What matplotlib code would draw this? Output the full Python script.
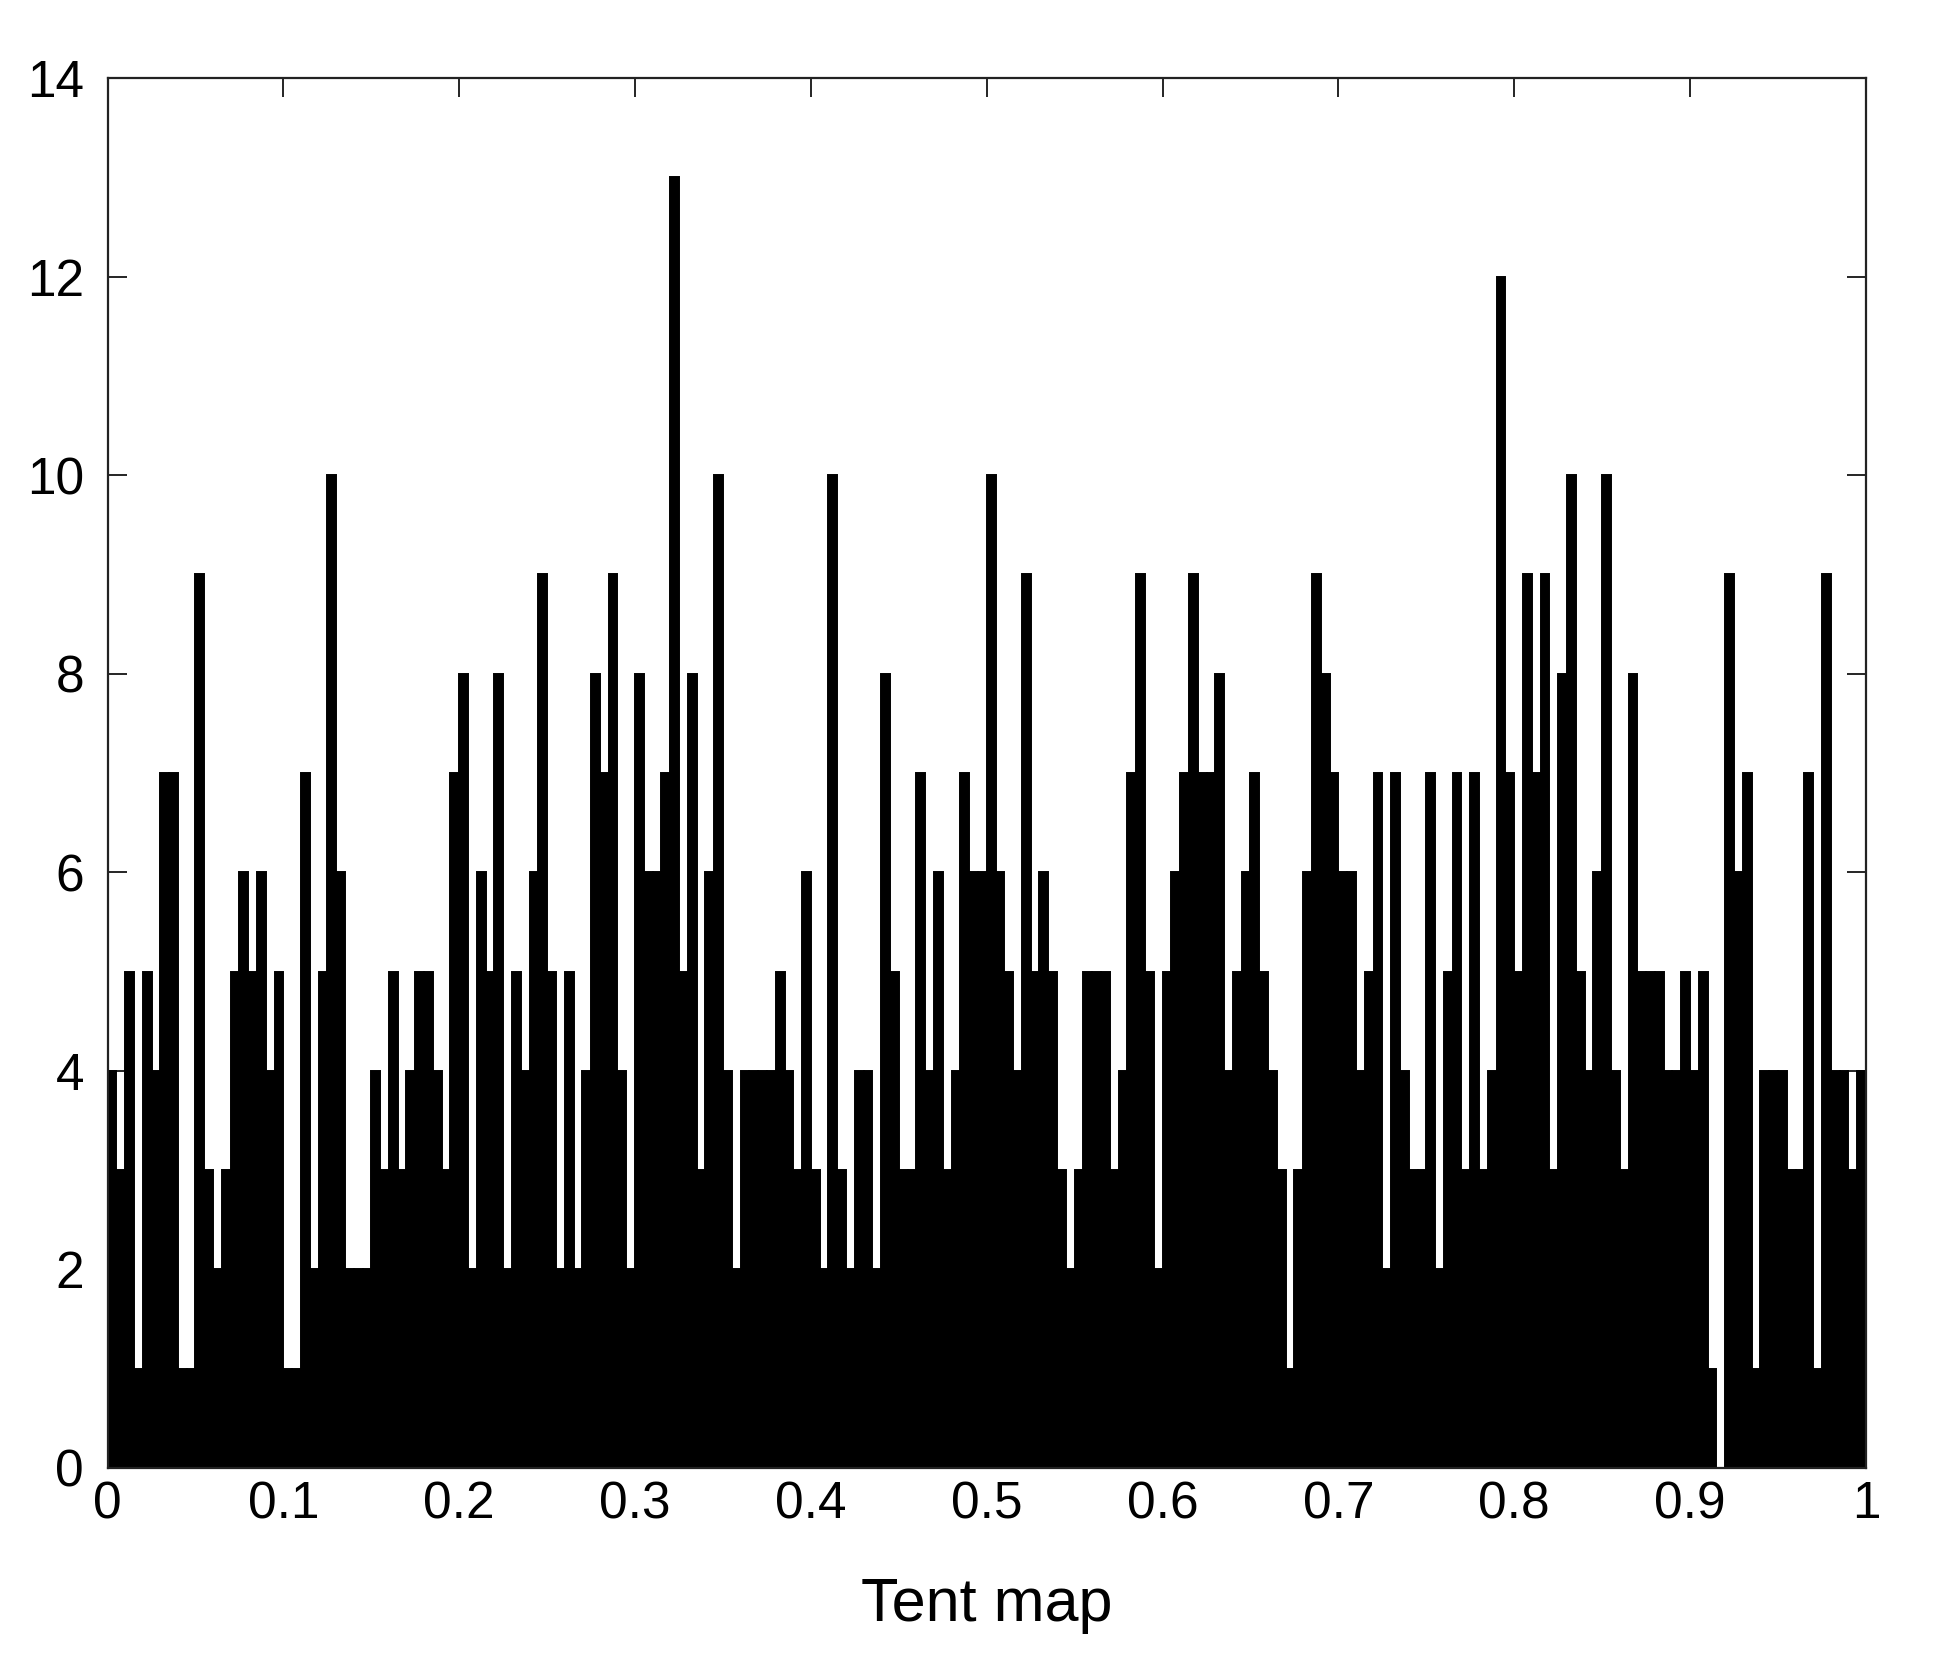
import numpy as np
import matplotlib
matplotlib.use("Agg")
import matplotlib.pyplot as plt

plt.rcParams['font.family'] = ['Liberation Sans', 'DejaVu Sans']

# histogram counts for 200 equal bins over [0, 1]
counts = [
    4, 3, 5, 1, 5, 4, 7, 7, 1, 1, 9, 3, 2, 3, 5, 6,
    5, 6, 4, 5, 1, 1, 7, 2, 5, 10, 6, 2, 2, 2, 4, 3, 5,
    3, 4, 5, 5, 4, 3, 7, 8, 2, 6, 5, 8, 2, 5, 4, 6, 9,
    5, 2, 5, 2, 4, 8, 7, 9, 4, 2, 8, 6, 6, 7, 13, 5, 8,
    3, 6, 10, 4, 2, 4, 4, 4, 4, 5, 4, 3, 6, 3, 2, 10, 3,
    2, 4, 4, 2, 8, 5, 3, 3, 7, 4, 6, 3, 4, 7, 6, 6, 10,
    6, 5, 4, 9, 5, 6, 5, 3, 2, 3, 5, 5, 5, 3, 4, 7, 9,
    5, 2, 5, 6, 7, 9, 7, 7, 8, 4, 5, 6, 7, 5, 4, 3, 1,
    3, 6, 9, 8, 7, 6, 6, 4, 5, 7, 2, 7, 4, 3, 3, 7, 2,
    5, 7, 3, 7, 3, 4, 12, 7, 5, 9, 7, 9, 3, 8, 10, 5, 4,
    6, 10, 4, 3, 8, 5, 5, 5, 4, 4, 5, 4, 5, 1, 0, 9, 6,
    7, 1, 4, 4, 4, 3, 3, 7, 1, 9, 4, 4, 3, 4,
]
n_bins = 200
x_range = (0.0, 1.0)
xticks = [0, 0.1, 0.2, 0.3, 0.4, 0.5, 0.6, 0.7, 0.8, 0.9, 1]
xtick_labels = ['0', '0.1', '0.2', '0.3', '0.4', '0.5', '0.6', '0.7', '0.8', '0.9', '1']
yticks = [0, 2, 4, 6, 8, 10, 12, 14]
xlabel = 'Tent map'

edges = np.linspace(x_range[0], x_range[1], n_bins + 1)

fig = plt.figure(figsize=(19.38, 16.54), dpi=100)
ax = fig.add_axes([0.0555, 0.1125, 0.9073, 0.8403])

ax.bar(edges[:-1], counts, width=np.diff(edges), align='edge',
       color='black', edgecolor='black', linewidth=1.4)

ax.set_xlim(0, 1)
ax.set_ylim(0, 14)
ax.set_xticks(xticks)
ax.set_xticklabels(xtick_labels)
ax.set_yticks(yticks)
ax.tick_params(direction='in', length=14, width=1.2, labelsize=37,
               top=True, right=True, colors='black')
ax.tick_params(axis='x', pad=9)
ax.tick_params(axis='y', pad=17)
for s in ax.spines.values():
    s.set_linewidth(1.6)
    s.set_color('#222222')
ax.set_xlabel(xlabel, fontsize=44, labelpad=34)

fig.savefig('out.png', dpi=100, facecolor='white')
